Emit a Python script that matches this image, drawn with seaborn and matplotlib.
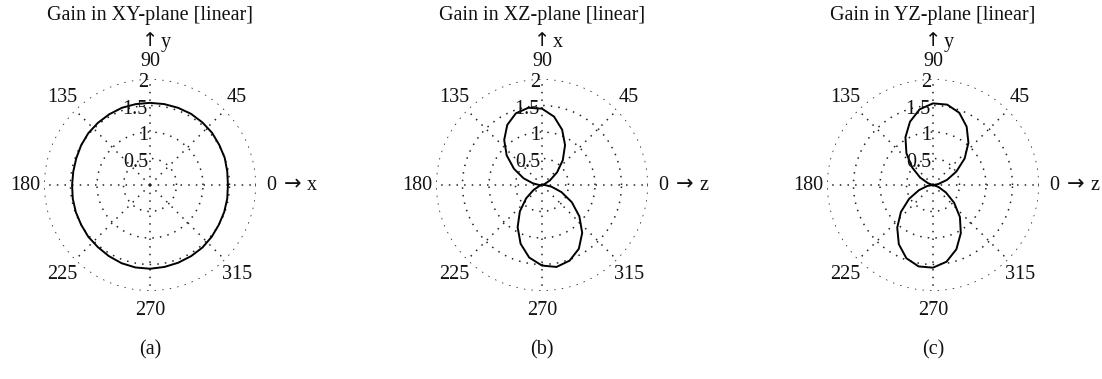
import numpy as np
import matplotlib
matplotlib.use("Agg")
import matplotlib.pyplot as plt
import seaborn as sns

# angle of each reading, degrees (last one closes the curve)
angles_deg = list(range(0, 361, 10))

# gain, one value per 10 degrees
gain_xy = [1.47, 1.48, 1.50, 1.51, 1.53, 1.54, 1.55, 1.55, 1.55, 1.55,
           1.55, 1.55, 1.54, 1.53, 1.52, 1.50, 1.48, 1.47, 1.47, 1.48,
           1.49, 1.50, 1.52, 1.53, 1.55, 1.57, 1.58, 1.58, 1.57, 1.56,
           1.55, 1.54, 1.52, 1.50, 1.49, 1.48, 1.47]
gain_xz = [0.05, 0.00, 0.05, 0.17, 0.37, 0.61, 0.87, 1.11, 1.31, 1.44,
           1.48, 1.44, 1.31, 1.11, 0.87, 0.61, 0.37, 0.17, 0.05, 0.00,
           0.05, 0.18, 0.39, 0.65, 0.92, 1.18, 1.39, 1.52, 1.57, 1.52,
           1.39, 1.18, 0.92, 0.65, 0.39, 0.18, 0.05]
gain_yz = [0.01, 0.10, 0.28, 0.51, 0.78, 1.04, 1.27, 1.45, 1.54, 1.54,
           1.45, 1.27, 1.04, 0.78, 0.51, 0.28, 0.10, 0.01, 0.01, 0.11,
           0.28, 0.52, 0.79, 1.05, 1.29, 1.47, 1.56, 1.56, 1.47, 1.29,
           1.05, 0.79, 0.52, 0.28, 0.11, 0.01, 0.01]

titles = ["Gain in XY-plane [linear]", "Gain in XZ-plane [linear]",
          "Gain in YZ-plane [linear]"]
up_axis = ["y", "x", "y"]
right_axis = ["x", "z", "z"]
panel_tags = ["(a)", "(b)", "(c)"]
ring_values = [0.5, 1, 1.5, 2]
ring_labels = ["0.5", "1", "1.5", "2"]

sns.set_style("white")
plt.rcParams["font.family"] = ["Liberation Serif", "DejaVu Serif"]
FS = 14.5

W, H = 1102, 379
fig = plt.figure(figsize=(W / 100, H / 100), dpi=100)
fig.patch.set_facecolor("white")

centers_x = [150, 542, 933]
cy = 185
R = 106  # pixels for r = 2


def put(ax, x, y, s, size=FS, **kw):
    # place text at cartesian position (data units) on a polar axes
    ax.text(np.arctan2(y, x), np.hypot(x, y), s, fontsize=size,
            color="#111111", **kw)


theta = np.deg2rad(angles_deg)
for i, gains in enumerate([gain_xy, gain_xz, gain_yz]):
    cx = centers_x[i]
    ax = fig.add_axes([(cx - R) / W, (H - cy - R) / H, 2 * R / W, 2 * R / H],
                      projection="polar")
    ax.set_facecolor("none")
    sns.lineplot(x=theta, y=gains, ax=ax, sort=False, estimator=None,
                 color="black", lw=1.4)
    ax.set_ylim(0, 2)
    ax.set_rgrids(ring_values, labels=[])
    ax.set_thetagrids(range(0, 360, 45), labels=[])
    ax.grid(True, linestyle=(0, (1, 4)), color="#222222", linewidth=1.1)
    ax.spines["polar"].set_visible(False)
    ax.set_xlabel("")
    ax.set_ylabel("")

    for rv, rl in zip(ring_values, ring_labels):
        put(ax, -0.04, rv - 0.07, rl, ha="right", va="center")

    put(ax, 0, 2.33, "90", ha="center", va="center")
    put(ax, 1.64, 1.66, "45", ha="center", va="center")
    put(ax, -1.66, 1.66, "135", ha="center", va="center")
    put(ax, -1.66, -1.68, "225", ha="center", va="center")
    put(ax, 1.64, -1.68, "315", ha="center", va="center")
    put(ax, 0, -2.37, "270", ha="center", va="center")
    put(ax, -2.06, 0, "180", ha="right", va="center")
    put(ax, 2.2, 0, "0", ha="left", va="center")
    put(ax, 2.68, 0.02, "→", size=15, ha="center", va="center",
        family="DejaVu Sans")
    put(ax, 3.06, 0, right_axis[i], ha="center", va="center")
    put(ax, 0, 2.72, "↑", size=14, ha="center", va="center",
        family="DejaVu Sans")
    put(ax, 0.3, 2.68, up_axis[i], ha="center", va="center")
    put(ax, 0, 3.2, titles[i], ha="center", va="center")
    put(ax, 0, -3.11, panel_tags[i], ha="center", va="center")

fig.savefig("out.png", dpi=100)
